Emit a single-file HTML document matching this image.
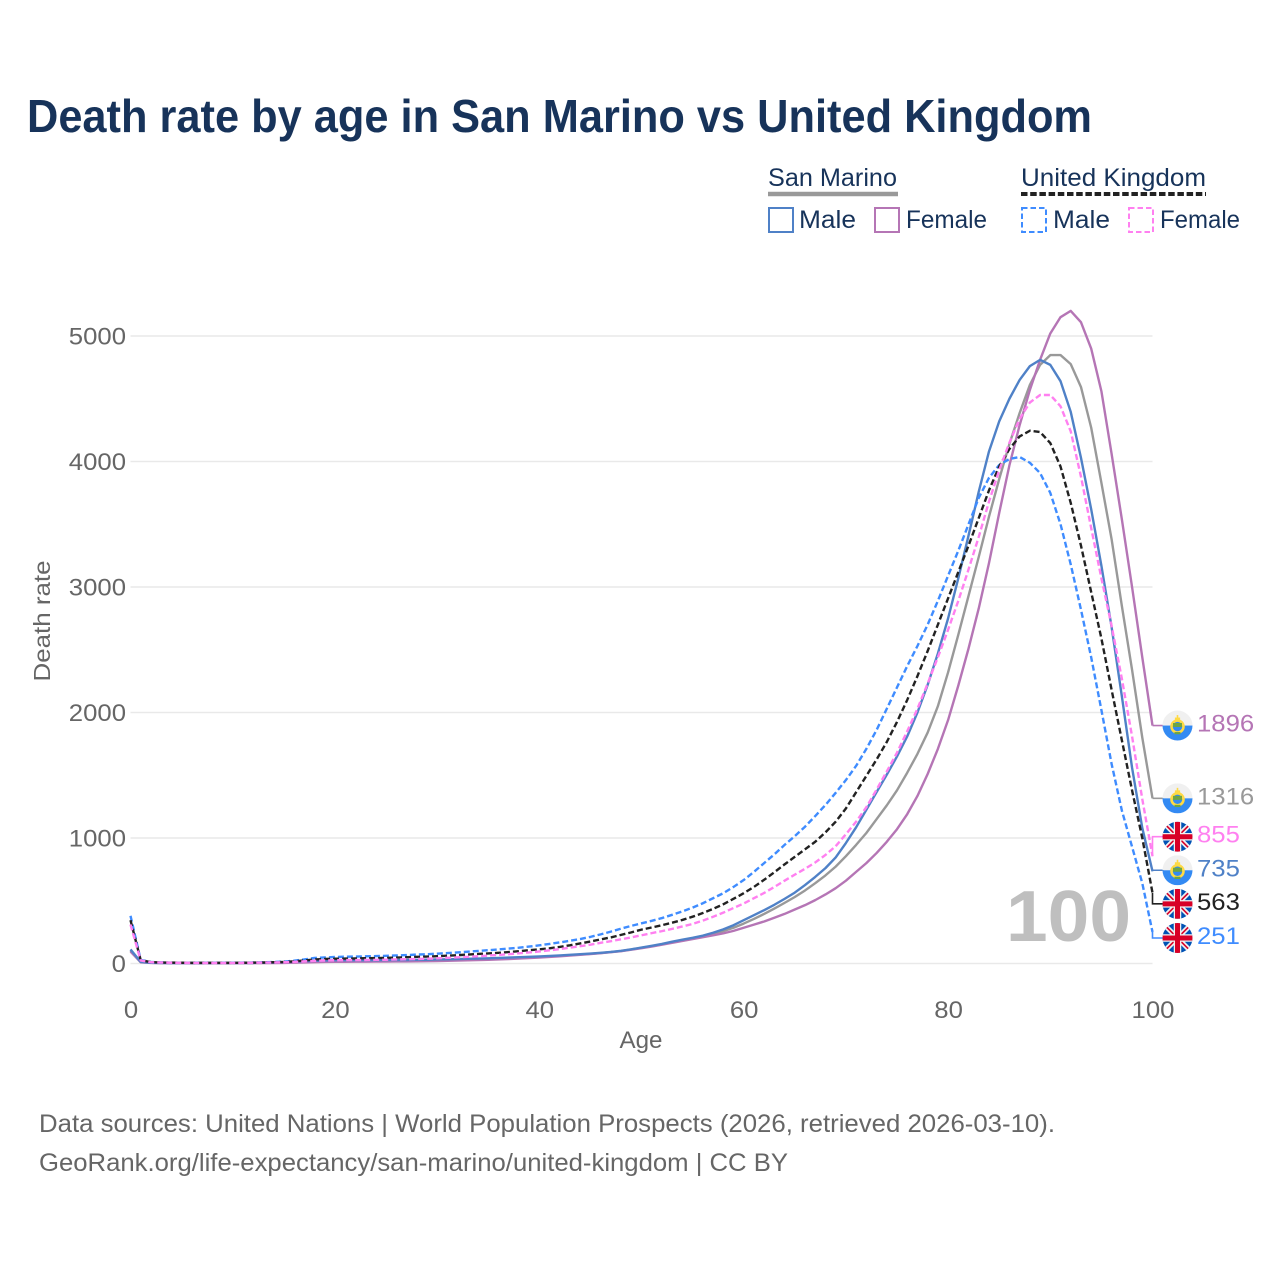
<!DOCTYPE html>
<html lang="en">
<head>
<meta charset="utf-8">
<title>Death rate by age in San Marino vs United Kingdom</title>
<style>
html,body{margin:0;padding:0;background:#fff;width:1280px;height:1280px;overflow:hidden}
svg{display:block}
text{font-family:"Liberation Sans",sans-serif}
</style>
</head>
<body>
<svg id="chart" width="1280" height="1280" viewBox="0 0 1280 1280" xmlns="http://www.w3.org/2000/svg">
<defs>
<clipPath id="flagClip"><circle cx="0" cy="0" r="15"/></clipPath>
<g id="flag-sm">
<g clip-path="url(#flagClip)">
<rect x="-15" y="-15" width="30" height="15" fill="#f0f0f0"/>
<rect x="-15" y="0" width="30" height="15" fill="#338af3"/>
<circle cx="0" cy="1" r="6" fill="#338af3" stroke="#ffda44" stroke-width="2.6"/>
<path d="M-4.5 -2.5H4.5V1.5H-4.5Z" fill="#6da544"/>
<rect x="-2.6" y="-8" width="5.2" height="3.4" fill="#ffda44"/>
<rect x="-0.8" y="-10.5" width="1.6" height="3" fill="#ffda44"/>
<rect x="-3" y="6.5" width="6" height="2.2" fill="#6da544"/>
</g>
</g>
<g id="flag-uk">
<g clip-path="url(#flagClip)">
<rect x="-15" y="-15" width="30" height="30" fill="#0052b4"/>
<path d="M-15 -15L15 15M15 -15L-15 15" stroke="#f0f0f0" stroke-width="5"/>
<path d="M-15 -15L15 15M15 -15L-15 15" stroke="#d80027" stroke-width="1.6"/>
<path d="M0 -15V15M-15 0H15" stroke="#f0f0f0" stroke-width="7.5"/>
<path d="M0 -15V15M-15 0H15" stroke="#d80027" stroke-width="5"/>
</g>
</g>
</defs>

<text x="27" y="132" font-size="46" font-weight="700" fill="#17335a" textLength="1065" lengthAdjust="spacingAndGlyphs">Death rate by age in San Marino vs United Kingdom</text>

<g fill="#17335a" font-size="25">
<text x="768" y="186" textLength="129" lengthAdjust="spacingAndGlyphs">San Marino</text>
<line x1="768" x2="898" y1="194" y2="194" stroke="#999" stroke-width="4.5"/>
<text x="1021" y="186" textLength="185" lengthAdjust="spacingAndGlyphs">United Kingdom</text>
<line x1="1021" x2="1206" y1="194" y2="194" stroke="#222" stroke-width="4" stroke-dasharray="6.5 2.7"/>
<rect x="769" y="208" width="24" height="24" fill="none" stroke="#4f81c7" stroke-width="2"/>
<text x="799" y="228" textLength="57" lengthAdjust="spacingAndGlyphs">Male</text>
<rect x="875" y="208" width="24" height="24" fill="none" stroke="#b575b5" stroke-width="2"/>
<text x="906" y="228" textLength="81" lengthAdjust="spacingAndGlyphs">Female</text>
<rect x="1022" y="208" width="24" height="24" fill="none" stroke="#3f8cff" stroke-width="2" stroke-dasharray="5.5 3"/>
<text x="1053" y="228" textLength="57" lengthAdjust="spacingAndGlyphs">Male</text>
<rect x="1129" y="208" width="24" height="24" fill="none" stroke="#ff80f0" stroke-width="2" stroke-dasharray="5.5 3"/>
<text x="1160" y="228" textLength="80" lengthAdjust="spacingAndGlyphs">Female</text>
</g>

<g id="grid"></g>
<g id="yTicks"></g>
<g id="xTicks"></g>

<text transform="translate(50,621) rotate(-90)" text-anchor="middle" font-size="23.5" fill="#666" textLength="121" lengthAdjust="spacingAndGlyphs">Death rate</text>
<text x="641" y="1048" text-anchor="middle" font-size="24" fill="#666" textLength="43" lengthAdjust="spacingAndGlyphs">Age</text>

<text x="1131" y="941" text-anchor="end" font-size="72" font-weight="700" fill="#bfbfbf" textLength="125" lengthAdjust="spacingAndGlyphs">100</text>

<g id="series"></g>
<g id="endLabels"></g>

<text x="39" y="1132" font-size="25" fill="#666" textLength="1016" lengthAdjust="spacingAndGlyphs">Data sources: United Nations | World Population Prospects (2026, retrieved 2026-03-10).</text>
<text x="39" y="1171" font-size="25" fill="#666" textLength="749" lengthAdjust="spacingAndGlyphs">GeoRank.org/life-expectancy/san-marino/united-kingdom | CC BY</text>
</svg>

<script>
const ages = [0,1,2,3,4,5,6,7,8,9,10,11,12,13,14,15,16,17,18,19,20,21,22,23,24,25,26,27,28,29,30,31,32,33,34,35,36,37,38,39,40,41,42,43,44,45,46,47,48,49,50,51,52,53,54,55,56,57,58,59,60,61,62,63,64,65,66,67,68,69,70,71,72,73,74,75,76,77,78,79,80,81,82,83,84,85,86,87,88,89,90,91,92,93,94,95,96,97,98,99,100];
const xTickValues = [0,20,40,60,80,100];
const yTickValues = [0,1000,2000,3000,4000,5000];
const sanMarinoAll = [103,11,6,4,4,3,3,3,3,3, 3,4,4,5,6,8,10,13,16,18, 19,20,20,21,21,22,22,23,24,25, 26,27,29,31,33,35,38,41,44,48, 51,56,60,66,71,77,83,91,99,112, 125,138,152,170,186,200,216,235,258,285, 318,355,395,438,483,530,582,640,702,772, 855,945,1040,1150,1260,1380,1520,1670,1840,2050, 2320,2620,2930,3240,3560,3860,4140,4386,4610,4770, 4848,4848,4776,4594,4270,3830,3380,2850,2340,1800,1316];
const sanMarinoMale = [112,12,6,5,4,4,4,4,4,4, 4,5,5,6,8,11,14,18,22,24, 25,25,25,26,26,27,27,28,29,30, 32,33,35,37,39,41,44,47,50,53, 56,60,64,69,74,79,85,92,101,113, 127,141,156,174,190,205,222,245,272,305, 345,385,425,468,515,565,625,690,760,845, 960,1085,1225,1365,1505,1650,1810,2000,2220,2470, 2750,3070,3410,3760,4080,4320,4500,4650,4760,4810, 4770,4640,4395,4030,3620,3170,2680,2130,1560,1080,735];
const sanMarinoFemale = [95,10,5,4,3,3,3,3,3,3, 3,3,3,4,4,5,7,9,11,13, 14,14,15,15,16,16,17,17,18,19, 20,21,23,25,27,29,32,35,39,43, 47,52,57,63,69,75,82,90,98,110, 122,135,150,165,180,195,210,225,240,260, 285,310,335,365,395,430,465,505,550,600, 660,730,800,880,970,1070,1190,1335,1510,1710, 1940,2215,2510,2830,3190,3590,3970,4290,4570,4810, 5020,5150,5200,5110,4900,4560,4060,3540,3000,2440,1896];
const unitedKingdomAll = [345,26,11,8,7,6,5,5,5,5, 5,6,7,8,10,12,17,24,32,36, 38,39,40,42,43,45,47,50,53,55, 58,62,66,71,76,80,85,91,98,106, 113,121,132,145,160,175,192,208,228,248, 270,287,305,325,347,373,402,435,472,515, 560,610,667,727,790,850,910,970,1045,1130, 1235,1365,1495,1625,1765,1925,2100,2290,2490,2700, 2910,3120,3330,3550,3770,3960,4100,4200,4245,4235, 4147,3960,3670,3330,2960,2590,2180,1780,1380,1000,563];
const unitedKingdomMale = [380,28,12,9,7,6,6,6,6,6, 6,7,8,10,12,15,22,32,44,48, 52,54,55,57,59,61,64,67,71,74, 78,83,88,94,100,106,112,119,126,135, 145,156,168,181,195,212,232,254,278,300, 320,340,362,388,415,445,480,520,560,610, 665,730,800,870,945,1015,1090,1175,1263,1360, 1462,1575,1710,1860,2030,2200,2370,2530,2700,2890, 3090,3290,3500,3710,3870,3972,4020,4036,3990,3908, 3750,3500,3180,2820,2440,2020,1590,1220,930,640,251];
const unitedKingdomFemale = [310,24,10,8,6,5,5,4,4,4, 4,5,6,7,8,10,13,17,21,24, 26,27,27,28,29,30,32,34,36,38, 41,45,49,53,58,63,68,74,81,88, 96,105,115,126,138,150,165,178,193,208, 225,242,258,276,295,315,342,372,405,442, 478,520,562,610,660,708,755,805,865,935, 1030,1130,1245,1385,1530,1680,1850,2030,2230,2440, 2660,2890,3140,3400,3680,3930,4150,4340,4470,4530, 4530,4440,4240,3880,3470,3070,2690,2270,1810,1310,855];

const NS = 'http://www.w3.org/2000/svg';
function xPos(age){ return 130.5 + age * 10.22; }
function yPos(v){ return 963.5 - v * 0.1255; }
function make(tag, attrs, parent, text){
  const el = document.createElementNS(NS, tag);
  for (const k in attrs) el.setAttribute(k, attrs[k]);
  if (text !== undefined) el.textContent = text;
  parent.appendChild(el);
  return el;
}
const grid = document.getElementById('grid');
const yT = document.getElementById('yTicks');
const xT = document.getElementById('xTicks');
yTickValues.forEach(function(v){
  const line = make('line', {x1:130.5, x2:1152.5, y1:yPos(v), y2:yPos(v), stroke:'#e9e9e9', 'stroke-width':1.6}, grid);
  
  
  const label = make('text', {x:126, y:yPos(v)+8.5, 'text-anchor':'end', 'font-size':24, fill:'#666', textLength:String(v).length*14.3, lengthAdjust:'spacingAndGlyphs'}, yT, String(v));
  
  
});
xTickValues.forEach(function(v){
  const label = make('text', {x:xPos(v)+0.5, y:1018, 'text-anchor':'middle', 'font-size':24, fill:'#666', textLength:String(v).length*14.3, lengthAdjust:'spacingAndGlyphs'}, xT, String(v));
  
  
});

function linePath(values){
  return values.map(function(v,i){ return (i?'L':'M') + xPos(ages[i]).toFixed(2) + ' ' + yPos(v).toFixed(2); }).join('');
}
const seriesLayer = document.getElementById('series');
const labelLayer = document.getElementById('endLabels');
function drawSeries(name, values, color, dash, flag, labelShift){
  const p = make('path', {d:linePath(values), fill:'none', stroke:color, 'stroke-width':2.4, 'stroke-linejoin':'round'}, seriesLayer);
  if (dash) p.setAttribute('stroke-dasharray', '6 3');
  
  
  const last = values[values.length-1];
  const endY = yPos(last);
  const labelY = endY + labelShift;
  const leader = make('path', {d:'M1152.5 '+endY.toFixed(2)+'V'+labelY.toFixed(2)+'H1164', fill:'none', stroke:color, 'stroke-width':1.6}, labelLayer);
  
  
  const f = make('use', {href:'#'+flag, transform:'translate(1177.5,'+labelY.toFixed(2)+')'}, labelLayer);
  
  
  const t = make('text', {x:1197, y:labelY+6, 'font-size':24.5, fill:color, textLength:String(last).length*14.3, lengthAdjust:'spacingAndGlyphs'}, labelLayer, String(last));
  
  
}
drawSeries('san-marino-all', sanMarinoAll, '#999999', false, 'flag-sm', 0);
drawSeries('san-marino-female', sanMarinoFemale, '#b575b5', false, 'flag-sm', 0);
drawSeries('san-marino-male', sanMarinoMale, '#4f81c7', false, 'flag-sm', -1);
drawSeries('united-kingdom-male', unitedKingdomMale, '#3f8cff', true, 'flag-uk', 6);
drawSeries('united-kingdom-all', unitedKingdomAll, '#222222', true, 'flag-uk', 11);
drawSeries('united-kingdom-female', unitedKingdomFemale, '#ff80f0', true, 'flag-uk', -19.5);
</script>
</body>
</html>
